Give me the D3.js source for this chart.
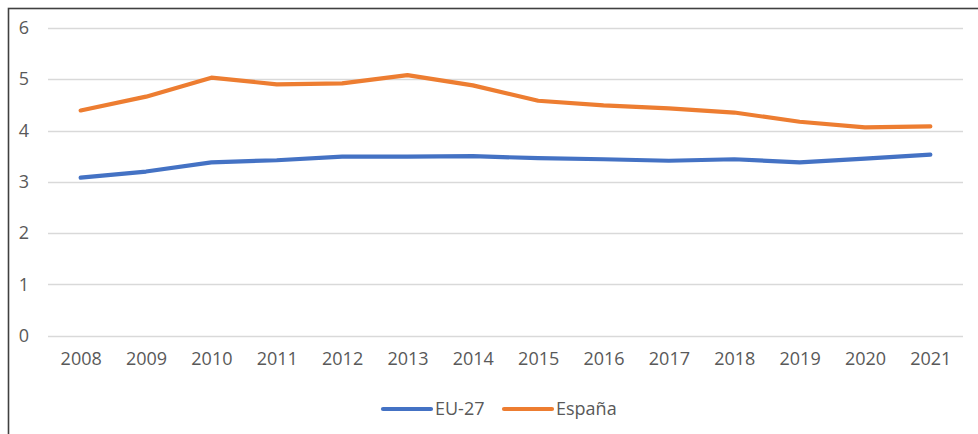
<!DOCTYPE html>
<html><head><meta charset="utf-8">
<script src="https://cdn.jsdelivr.net/npm/d3@7"></script>
<style>body{margin:0;background:#fff}svg{display:block}text{font-family:"Open Sans",sans-serif;fill:#595959}</style>
</head><body><svg id="c" width="978" height="434"></svg>
<script>
const years = ["2008","2009","2010","2011","2012","2013","2014","2015","2016","2017","2018","2019","2020","2021"];
const eu27 = [3.08,3.20,3.38,3.42,3.49,3.49,3.50,3.46,3.44,3.41,3.44,3.38,3.45,3.53];
const espana = [4.39,4.66,5.03,4.90,4.92,5.08,4.88,4.58,4.49,4.43,4.35,4.17,4.06,4.08];
const yTicks = [0,1,2,3,4,5,6];
const seriesNames = ["EU-27","España"];
const colors = ["#4472C4","#ED7D31"];

const svg = d3.select("#c");
svg.append("rect").attr("x",8.5).attr("y",8.5).attr("width",1000).attr("height",500)
  .attr("fill","none").attr("stroke","#404040").attr("stroke-width",1.6);

const x = d3.scalePoint().domain(years).range([48,963]).padding(0.5);
const y = d3.scaleLinear().domain([0,6]).range([335.7,27.9]);

const grid = svg.append("g");
grid.selectAll("line").data(yTicks).join("line")
  .attr("x1",48).attr("x2",963).attr("y1",d=>Math.round(y(d))+0.5).attr("y2",d=>Math.round(y(d))+0.5)
  .attr("stroke","#d9d9d9").attr("stroke-width",1.3);

const yAxis = svg.append("g").attr("transform","translate(29,0)")
  .call(d3.axisLeft(y).tickValues(yTicks).tickFormat(d3.format("d")).tickSize(0).tickPadding(0));
yAxis.select(".domain").remove();
yAxis.selectAll("text").attr("font-size",18).style("font-family","Open Sans").attr("fill","#595959");

const xAxis = svg.append("g").attr("transform","translate(0,352)")
  .call(d3.axisBottom(x).tickSize(0).tickPadding(0));
xAxis.select(".domain").remove();
xAxis.selectAll("text").attr("font-size",18).style("font-family","Open Sans").attr("fill","#595959");

const line = d3.line().x((d,i)=>x(years[i])).y(d=>y(d));
[eu27, espana].forEach((s,k)=>{
  svg.append("path").datum(s).attr("d",line).attr("fill","none")
    .attr("stroke",colors[k]).attr("stroke-width",4.2).attr("stroke-linecap","round").attr("stroke-linejoin","round");
});

const legX = [383, 504];
seriesNames.forEach((n,k)=>{
  const g = svg.append("g").attr("transform",`translate(${legX[k]},409)`);
  g.append("line").attr("x1",0).attr("x2",48).attr("stroke",colors[k]).attr("stroke-width",4.2).attr("stroke-linecap","round");
  g.append("text").attr("x",52).attr("dy","0.35em").attr("font-size",18).text(n);
});
</script></body></html>
